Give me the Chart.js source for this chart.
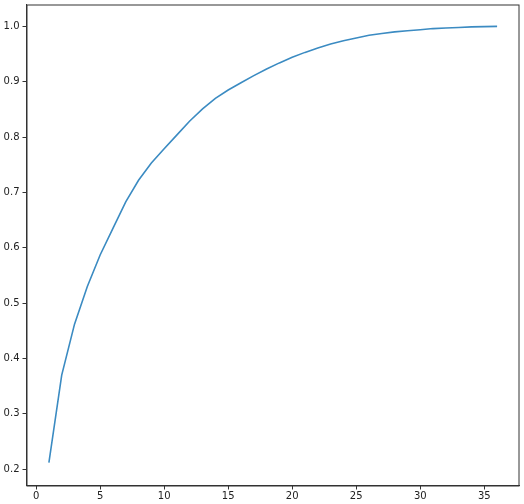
<!DOCTYPE html>
<html>
<head>
<meta charset="utf-8">
<script src="https://cdn.jsdelivr.net/npm/chart.js@4"></script>
<style>
  html, body { margin: 0; padding: 0; background: #fff; }
  #wrap { width: 524px; height: 504px; }
</style>
</head>
<body>
<div id="wrap"><canvas id="chart" width="524" height="504"></canvas></div>
<script>
// number of components (x)
const components = [
  1, 2, 3, 4, 5, 6, 7, 8, 9, 10, 11, 12, 13, 14, 15, 16, 17, 18,
  19, 20, 21, 22, 23, 24, 25, 26, 27, 28, 29, 30, 31, 32, 33, 34, 35, 36
];
// cumulative explained variance (y)
const cumVariance = [
  0.212, 0.370, 0.462, 0.530, 0.587, 0.635, 0.683, 0.722, 0.753, 0.779,
  0.804, 0.829, 0.851, 0.870, 0.885, 0.898, 0.911, 0.923, 0.934, 0.944,
  0.953, 0.961, 0.968, 0.974, 0.979, 0.984, 0.987, 0.990, 0.992, 0.994,
  0.996, 0.997, 0.998, 0.999, 0.9995, 1.000
];
const xTicks = [0, 5, 10, 15, 20, 25, 30, 35];
const yTicks = [0.2, 0.3, 0.4, 0.5, 0.6, 0.7, 0.8, 0.9, 1.0];

const axisColor = '#333';
const tickFont = { family: 'DejaVu Sans', size: 10 };

// matplotlib-like frame on all four sides
const frame = {
  id: 'frame',
  afterDraw(chart) {
    const { ctx, chartArea: a } = chart;
    ctx.save();
    ctx.strokeStyle = axisColor;
    ctx.lineWidth = 1;
    ctx.strokeRect(a.left + 0.5, a.top + 0.5, a.right - a.left - 1, a.bottom - a.top);
    ctx.restore();
  }
};

new Chart(document.getElementById('chart').getContext('2d'), {
  type: 'line',
  data: {
    datasets: [{
      data: components.map((x, i) => ({ x, y: cumVariance[i] })),
      borderColor: '#3b8bc2',
      borderWidth: 1.6,
      pointRadius: 0,
      fill: false,
      tension: 0,
    }],
  },
  options: {
    responsive: false,
    animation: false,
    layout: { padding: { top: 4.5, right: 4.5, left: 0, bottom: 0 } },
    plugins: { legend: { display: false }, tooltip: { enabled: false } },
    scales: {
      x: {
        type: 'linear',
        min: -0.75,
        max: 37.75,
        afterBuildTicks: s => { s.ticks = xTicks.map(v => ({ value: v })); },
        afterFit: s => { s.height = 18.5; s.paddingLeft = 0; s.paddingRight = 0; },
        ticks: { color: '#222', font: tickFont, padding: 1, maxRotation: 0 },
        grid: { drawOnChartArea: false, tickLength: 4, color: axisColor },
        border: { color: axisColor },
      },
      y: {
        min: 0.1705,
        max: 1.0395,
        afterBuildTicks: s => { s.ticks = yTicks.map(v => ({ value: v })); },
        afterFit: s => { s.width = 26.5; s.paddingTop = 0; s.paddingBottom = 0; },
        ticks: {
          color: '#222',
          font: tickFont,
          padding: 3,
          callback: v => v.toFixed(1),
        },
        grid: { drawOnChartArea: false, tickLength: 4, color: axisColor },
        border: { color: axisColor },
      },
    },
  },
  plugins: [frame],
});
</script>
</body>
</html>
